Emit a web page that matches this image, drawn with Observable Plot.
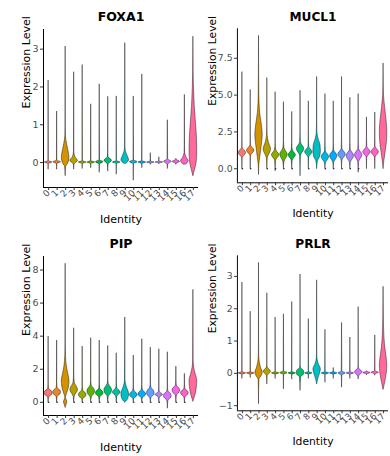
<!DOCTYPE html>
<html><head><meta charset="utf-8">
<script src="https://cdn.jsdelivr.net/npm/d3@7"></script>
<script src="https://cdn.jsdelivr.net/npm/@observablehq/plot@0.6"></script>
<style>
html,body{margin:0;padding:0;background:#fff;}
#fig{position:relative;width:390px;height:456px;overflow:hidden;background:#fff;}
.panel{position:absolute;}
</style></head>
<body><div id="fig"></div>
<script>
const identities = ["0","1","2","3","4","5","6","7","8","9","10","11","12","13","14","15","16","17"];

// violin profiles: [expression value, relative half-width]
const foxa1Violins = [
 [[-0.18,0],[-0.04,0.04],[0,1],[0.04,0.04],[2.17,0]],
 [[-0.18,0],[-0.04,0.04],[0.01,1],[0.05,0.04],[1.35,0]],
 [[-0.35,0],[-0.12,0.15],[-0.02,0.7],[0.12,1],[0.3,0.75],[0.5,0.35],[0.7,0.08],[1.0,0.03],[3.07,0]],
 [[-0.18,0],[-0.05,0.1],[0.04,1],[0.15,0.3],[0.3,0.04],[2.39,0]],
 [[-0.16,0],[-0.04,0.04],[0,1],[0.04,0.04],[2.58,0]],
 [[-0.14,0],[-0.04,0.04],[0,1],[0.04,0.04],[1.54,0]],
 [[-0.26,0],[-0.05,0.05],[0.01,1],[0.06,0.05],[2.07,0]],
 [[-0.23,0],[-0.05,0.1],[0.05,1],[0.14,0.1],[0.25,0.03],[1.74,0]],
 [[-0.31,0],[-0.04,0.04],[0,1],[0.04,0.04],[1.75,0]],
 [[-0.03,0.3],[0.06,1],[0.18,0.6],[0.3,0.15],[0.45,0.04],[3.16,0]],
 [[-0.47,0],[-0.04,0.05],[0.01,1],[0.06,0.05],[1.75,0]],
 [[-0.14,0],[-0.04,0.04],[0,1],[0.04,0.04],[2.33,0]],
 [[-0.05,0],[-0.03,0.04],[0,1],[0.03,0.04],[0.25,0]],
 [[-0.04,0],[-0.02,0.04],[0,1],[0.03,0.04],[0.14,0]],
 [[-0.16,0],[-0.05,0.08],[0.02,1],[0.08,0.08],[1.12,0]],
 [[-0.05,0],[-0.03,0.1],[0.02,1],[0.07,0.1],[0.1,0]],
 [[-0.05,0.4],[0.04,1],[0.12,0.5],[0.25,0.08],[0.4,0.03],[1.79,0]],
 [[-0.35,0.05],[-0.2,0.4],[0,0.85],[0.3,1],[0.6,0.95],[1.0,0.7],[1.5,0.35],[2.0,0.15],[2.4,0.05],[3.33,0]]
];
const mucl1Violins = [
 [[0,0],[0.7,0.06],[1.07,1],[1.45,0.06],[2.2,0.02],[6.56,0]],
 [[0,0],[0.85,0.06],[1.23,1],[1.6,0.06],[2.4,0.02],[5.35,0]],
 [[-0.4,0],[0.3,0.1],[0.8,0.35],[1.5,0.7],[2.3,1],[3.0,0.75],[3.8,0.3],[5.0,0.08],[6.5,0.03],[9.03,0]],
 [[0,0],[0.7,0.12],[1.3,1],[1.8,0.4],[2.3,0.08],[3.0,0.02],[6.16,0]],
 [[-0.15,0],[0.55,0.15],[0.92,1],[1.25,0.2],[1.7,0.03],[5.2,0]],
 [[0,0],[0.45,0.15],[0.96,1],[1.4,0.15],[1.9,0.03],[4.52,0]],
 [[0,0],[0.55,0.12],[0.92,1],[1.25,0.15],[1.7,0.03],[3.86,0]],
 [[-0.48,0],[0.85,0.1],[1.34,1],[1.8,0.1],[2.5,0.02],[5.3,0]],
 [[0,0],[0.75,0.08],[1.12,1],[1.5,0.08],[2.2,0.02],[4.58,0]],
 [[0,0],[0.5,0.2],[0.8,0.8],[1.2,1],[1.6,0.9],[2.0,0.4],[2.4,0.1],[3.0,0.03],[6.23,0]],
 [[0,0],[0.35,0.12],[0.79,1],[1.2,0.1],[1.8,0.02],[5.07,0]],
 [[0,0],[0.4,0.12],[0.86,1],[1.25,0.1],[1.8,0.02],[4.58,0]],
 [[0,0],[0.55,0.1],[0.96,1],[1.35,0.1],[2.0,0.02],[6.23,0]],
 [[0,0],[0.4,0.12],[0.86,1],[1.3,0.1],[1.9,0.02],[4.82,0]],
 [[-0.24,0],[0.45,0.12],[0.92,1],[1.35,0.1],[1.9,0.02],[5.07,0]],
 [[0,0],[0.75,0.08],[1.12,1],[1.5,0.08],[2.1,0.02],[3.49,0]],
 [[0,0],[0.75,0.08],[1.12,1],[1.5,0.08],[2.1,0.02],[3.82,0]],
 [[0,0],[0.5,0.2],[1.2,0.6],[2.0,0.95],[2.6,1],[3.3,0.8],[4.2,0.4],[5.0,0.12],[5.6,0.05],[7.15,0]]
];
const pipViolins = [
 [[0,0],[0.3,0.15],[0.45,0.9],[0.55,1],[0.65,0.9],[0.8,0.15],[1.1,0.03],[3.98,0]],
 [[0,0],[0.33,0.15],[0.49,0.9],[0.59,1],[0.69,0.9],[0.85,0.15],[1.15,0.03],[3.74,0]],
 [[-0.32,0],[-0.12,0.3],[0.0,0.45],[0.12,0.3],[0.28,0.08],[0.5,0.35],[0.9,0.85],[1.3,1],[1.7,0.7],[2.2,0.3],[2.8,0.1],[3.5,0.04],[8.38,0]],
 [[0,0],[0.35,0.15],[0.75,1],[1.2,0.15],[1.8,0.03],[4.48,0]],
 [[0,0],[0.2,0.15],[0.32,0.8],[0.44,1],[0.56,0.8],[0.7,0.15],[1.0,0.03],[3.37,0]],
 [[0,0],[0.3,0.15],[0.5,0.8],[0.65,1],[0.8,0.8],[1.0,0.15],[1.3,0.03],[3.88,0]],
 [[0,0],[0.3,0.15],[0.45,0.8],[0.55,1],[0.65,0.8],[0.8,0.15],[1.1,0.03],[3.74,0]],
 [[0,0],[0.35,0.15],[0.55,0.8],[0.75,1],[0.9,0.7],[1.1,0.15],[1.4,0.03],[3.41,0]],
 [[0,0],[0.35,0.15],[0.5,0.8],[0.59,1],[0.68,0.8],[0.85,0.15],[1.15,0.03],[2.97,0]],
 [[0,0],[0.05,0.3],[0.3,0.9],[0.5,1],[0.8,0.6],[1.1,0.2],[1.4,0.05],[5.13,0]],
 [[0,0],[0.22,0.15],[0.34,0.8],[0.44,1],[0.54,0.8],[0.7,0.15],[1.0,0.03],[2.83,0]],
 [[0,0],[0.25,0.15],[0.38,0.8],[0.48,1],[0.58,0.8],[0.75,0.15],[1.05,0.03],[3.82,0]],
 [[0,0],[0.25,0.15],[0.42,0.8],[0.55,1],[0.7,0.8],[0.9,0.15],[1.2,0.03],[3.31,0]],
 [[0,0],[0.3,0.15],[0.4,0.8],[0.44,1],[0.5,0.8],[0.6,0.15],[0.9,0.03],[3.21,0]],
 [[-0.36,0],[0.1,0.15],[0.25,0.8],[0.38,1],[0.5,0.8],[0.65,0.15],[0.95,0.03],[3.03,0]],
 [[0,0],[0.4,0.15],[0.58,0.8],[0.71,1],[0.84,0.8],[1.0,0.15],[1.3,0.03],[2.16,0]],
 [[0,0],[0.3,0.15],[0.45,0.8],[0.55,1],[0.65,0.8],[0.8,0.15],[1.1,0.03],[1.72,0]],
 [[0.05,0],[0.15,0.15],[0.4,0.5],[0.9,0.9],[1.3,1],[1.7,0.6],[2.1,0.2],[2.6,0.05],[6.8,0]]
];
const prlrViolins = [
 [[-0.16,0],[-0.04,0.04],[0,1],[0.04,0.04],[2.81,0]],
 [[-0.13,0],[-0.04,0.04],[0,1],[0.04,0.04],[1.91,0]],
 [[-0.94,0],[-0.2,0.1],[-0.08,0.7],[0.02,1],[0.15,0.6],[0.35,0.2],[0.55,0.05],[0.9,0.02],[3.42,0]],
 [[-0.33,0],[-0.08,0.1],[0.05,1],[0.18,0.1],[0.3,0.02],[2.48,0]],
 [[-0.16,0],[-0.04,0.04],[0,1],[0.04,0.04],[1.73,0]],
 [[-0.48,0],[-0.05,0.06],[0.01,1],[0.06,0.06],[1.83,0]],
 [[-0.18,0],[-0.04,0.04],[0,1],[0.04,0.04],[2.21,0]],
 [[-0.53,0],[-0.12,0.15],[-0.04,0.9],[0.02,1],[0.08,0.9],[0.16,0.15],[0.3,0.02],[3.06,0]],
 [[-0.16,0],[-0.04,0.04],[0,1],[0.04,0.04],[1.68,0]],
 [[-0.33,0.02],[-0.2,0.25],[0.05,0.9],[0.12,1],[0.3,0.4],[0.47,0.08],[0.7,0.03],[2.88,0]],
 [[-0.28,0],[-0.04,0.04],[0,1],[0.04,0.04],[1.35,0]],
 [[-0.16,0],[-0.04,0.04],[0,1],[0.04,0.04],[0.17,0]],
 [[-0.43,0],[-0.06,0.08],[0,1],[0.06,0.08],[1.56,0]],
 [[-0.16,0],[-0.04,0.04],[0,1],[0.04,0.04],[1.11,0]],
 [[-0.18,0],[-0.1,0.1],[0.04,1],[0.15,0.1],[0.25,0.02],[2.05,0]],
 [[-0.05,0],[-0.03,0.06],[0.01,1],[0.05,0.06],[0.07,0]],
 [[-0.06,0],[-0.03,0.06],[0.02,1],[0.07,0.06],[1.18,0]],
 [[-0.5,0.03],[-0.3,0.4],[0,0.85],[0.25,1],[0.5,0.8],[0.8,0.45],[1.2,0.2],[1.7,0.08],[2.2,0.03],[2.68,0]]
];
// clusters showing zero-valued points
const mucl1ZeroDots = [0,1,3,4,5,6,8,10,11,12,13,14];
const pipZeroDots = [0,1,3,4,5,6,7,8,10,11,12,13,15,16];

const foxa1Ticks = [0,1,2,3];
const mucl1Ticks = [0,2.5,5,7.5];
const pipTicks = [0,2,4,6,8];
const prlrTicks = [-1,0,1,2,3];

// ggplot2 default hue palette (hcl, c=100, l=65)
function hueColor(h){
  const c=100,l=65,hr=h*Math.PI/180;
  const U=c*Math.cos(hr),V=c*Math.sin(hr);
  const Xn=0.95047,Yn=1,Zn=1.08883;
  const den=Xn+15*Yn+3*Zn, un=4*Xn/den, vn=9*Yn/den;
  const Y=Math.pow((l+16)/116,3)*Yn;
  const u=U/(13*l)+un, v=V/(13*l)+vn;
  const X=Y*9*u/(4*v), Z=Y*(12-3*u-20*v)/(4*v);
  const lin=[3.2404542*X-1.5371385*Y-0.4985314*Z,-0.9692660*X+1.8760108*Y+0.0415560*Z,0.0556434*X-0.2040259*Y+1.0572252*Z];
  const g=lin.map(t=>{t=t<=0.0031308?12.92*t:1.055*Math.pow(t,1/2.4)-0.055;return Math.round(Math.max(0,Math.min(1,t))*255);});
  return d3.rgb(g[0],g[1],g[2]).formatHex();
}
const n=identities.length;
const colors=identities.map((_,i)=>hueColor(15+360*i/n));

const FONT="DejaVu Sans, Verdana, sans-serif";

function panel(title, violins, zeroDots, ticks, fmt, marginTop, labelDx){
  const rows=violins.flatMap((knots,i)=>knots.slice().sort((a,b)=>a[0]-b[0]).map(([y,w])=>({cat:identities[i],i,y,x1:i-w*0.45,x2:i+w*0.45})));
  const [lo,hi]=d3.extent(violins.flat(),k=>k[0]);
  const pad=(hi-lo)*0.05;
  const ydom=[lo-pad,hi+pad];
  const xdom=[-0.6,n-1+0.6];
  return Plot.plot({
    width:200,height:228,marginLeft:43,marginRight:2,marginTop,marginBottom:41,
    style:{fontFamily:FONT,background:"transparent",overflow:"visible"},
    x:{domain:xdom,axis:null},
    y:{domain:ydom,axis:null},
    color:{domain:identities,range:colors},
    marks:[
      Plot.areaX(rows,{y:"y",x1:"x1",x2:"x2",z:"cat",fill:"cat",stroke:"#000",strokeWidth:0.5,strokeOpacity:0.85,curve:"monotone-y"}),
      Plot.dot(zeroDots.map(i=>({i,y:0})),{x:"i",y:"y",r:0.8,fill:"#222",stroke:null}),
      Plot.ruleX([xdom[0]],{stroke:"#000",strokeWidth:1}),
      Plot.ruleY([ydom[0]],{stroke:"#000",strokeWidth:1}),
      Plot.axisY(ticks,{tickSize:3,tickPadding:2,tickFormat:fmt,fontSize:9.5,fill:"#4d4d4d",stroke:"#333",label:null}),
      Plot.axisX(identities.map((_,i)=>i),{tickSize:3,tickPadding:1,tickRotate:-45,tickFormat:i=>identities[i],fontSize:9,fill:"#4d4d4d",stroke:"#333",label:null}),
      Plot.text([title],{frameAnchor:"top",dy:-17,fontSize:12.5,fontWeight:"bold",fill:"#000"}),
      Plot.text(["Identity"],{frameAnchor:"bottom",dy:35,fontSize:11,fill:"#000"}),
      Plot.text(["Expression Level"],{frameAnchor:"left",dx:labelDx,rotate:-90,fontSize:11,fill:"#000"})
    ]
  });
}

const fig=document.getElementById("fig");
const specs=[
  ["FOXA1",foxa1Violins,[],foxa1Ticks,d=>d3.format("d")(d),29,-17,0,0],
  ["MUCL1",mucl1Violins,mucl1ZeroDots,mucl1Ticks,d=>d3.format(".1f")(d),29,-25,195,0],
  ["PIP",pipViolins,pipZeroDots,pipTicks,d=>d3.format("d")(d),28,-17,0,228],
  ["PRLR",prlrViolins,[],prlrTicks,d=>d3.format("d")(d),28,-25,195,228]
];
for(const [t,v,z,tk,f,mt,ldx,left,top] of specs){
  const div=document.createElement("div");
  div.className="panel";div.style.left=left+"px";div.style.top=top+"px";
  div.appendChild(panel(t,v,z,tk,f,mt,ldx));
  fig.appendChild(div);
}
</script></body></html>
